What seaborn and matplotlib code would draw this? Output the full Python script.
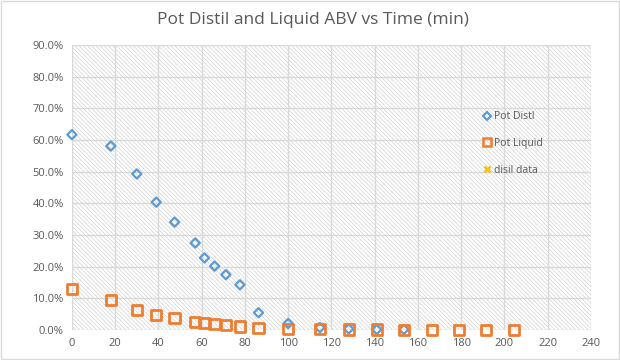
import matplotlib
matplotlib.use("Agg")
import matplotlib.pyplot as plt
import seaborn as sns
import pandas as pd
from matplotlib.lines import Line2D
from matplotlib.patches import Rectangle
from matplotlib.ticker import PercentFormatter

# data (time in min, ABV in %)
distil_time = [0, 18, 30, 39, 47.5, 57, 61.3, 66, 71.2, 77.7, 86.3, 100, 114.7, 128, 141, 153.5]
distil_abv = [61.7, 58.1, 49.3, 40.4, 34.1, 27.5, 22.8, 20.2, 17.5, 14.3, 5.5, 2.1, 0.8, 0.4, 0.2, 0.2]

liquid_time = [0, 18, 30, 39, 47.5, 57, 61.3, 66, 71.2, 77.7, 86.3, 100, 114.7, 128, 141,
               153.5, 166.5, 179, 191.4, 204.4]
liquid_abv = [13.0, 9.5, 6.3, 4.8, 3.9, 2.6, 2.3, 2.0, 1.7, 1.1, 0.6, 0.4, 0.3, 0.2, 0.2,
              0.1, 0.1, 0.1, 0.1, 0.1]

blue = "#5B9BD5"
orange = "#ED7D31"
yellow = "#FFC000"
grey_text = "#595959"

sns.set_style("white")
plt.rcParams["font.family"] = ["Open Sans", "DejaVu Sans"]
plt.rcParams["hatch.linewidth"] = 0.5

df_d = pd.DataFrame({"time": distil_time, "abv": distil_abv})
df_l = pd.DataFrame({"time": liquid_time, "abv": liquid_abv})

fig = plt.figure(figsize=(6.2, 3.6), dpi=100)
ax = fig.add_axes([0.116, 0.083, 0.837, 0.792])

# hatched plot background like the Excel pattern fill
ax.add_patch(Rectangle((0, 0), 1, 1, transform=ax.transAxes, facecolor="white",
                       edgecolor="#d2d2d2", hatch="\\" * 8, linewidth=0, zorder=0))

sns.scatterplot(data=df_d, x="time", y="abv", ax=ax, marker="D", s=22,
                facecolors="none", edgecolor=blue, linewidth=1.6, zorder=3, clip_on=False)
sns.scatterplot(data=df_l, x="time", y="abv", ax=ax, marker="s", s=55,
                facecolors="none", edgecolor=orange, linewidth=2, zorder=4, clip_on=False)

ax.set_xlim(0, 240)
ax.set_ylim(0, 90)
ax.set_xticks(range(0, 241, 20))
ax.set_yticks(range(0, 91, 10))
ax.yaxis.set_major_formatter(PercentFormatter(decimals=1))
ax.grid(True, color="#d9d9d9", linewidth=1, zorder=1)
ax.set_axisbelow(True)
for s in ax.spines.values():
    s.set_visible(False)
ax.tick_params(colors=grey_text, labelsize=8, length=0, pad=6)
ax.set_xlabel("")
ax.set_ylabel("")

fig.text(0.505, 0.945, "Pot Distil and Liquid ABV vs Time (min)", ha="center", va="center",
         fontsize=12.5, color=grey_text)

handles = [
    Line2D([], [], marker="D", ls="", markersize=4, mfc="none", mec=blue, mew=1.6),
    Line2D([], [], marker="s", ls="", markersize=6, mfc="none", mec=orange, mew=1.8),
    Line2D([], [], marker="x", ls="", markersize=5, mec=yellow, mew=1.8),
]
leg = ax.legend(handles, ["Pot Distl", "Pot Liquid", "disil data"], loc="upper left",
                bbox_to_anchor=(0.77, 0.8), frameon=False, fontsize=7.5,
                labelspacing=1.5, handletextpad=0.1, handlelength=1.2)
for t in leg.get_texts():
    t.set_color(grey_text)

# light outer border of the chart area
fig.patches.append(Rectangle((0.002, 0.003), 0.996, 0.994, transform=fig.transFigure,
                             fill=False, edgecolor="#d9d9d9", linewidth=1))

fig.savefig("out.png", dpi=100)
